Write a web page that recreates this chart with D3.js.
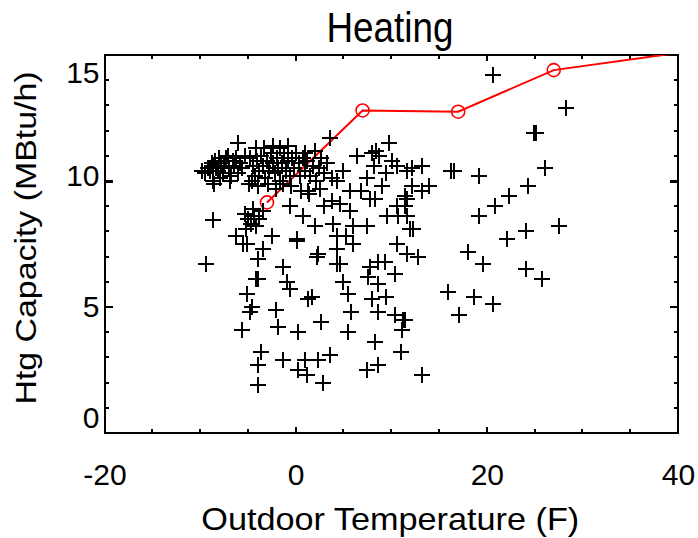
<!DOCTYPE html>
<html>
<head>
<meta charset="utf-8">
<script src="https://cdn.jsdelivr.net/npm/d3@7"></script>
<style>
  html, body { margin: 0; padding: 0; background: #fff; }
  svg { display: block; font-family: "Liberation Sans", Arial, sans-serif; }
</style>
</head>
<body>
<svg id="chart" width="698" height="538"></svg>
<script>
// Heating capacity vs outdoor temperature: measured points (+) and rated curve (red)
const TITLE = 'Heating';
const X_LABEL = 'Outdoor Temperature (F)';
const Y_LABEL = 'Htg Capacity (MBtu/h)';
const X_TICKS = [-20, 0, 20, 40];
const Y_TICKS = [0, 5, 10, 15];

// measured points [temp F, capacity MBtu/h]
const measured = [
  // dense cluster, far left
  [-9.8,10.4],[-9.5,10.3],[-9.2,10.5],[-9.0,10.4],[-8.8,10.7],[-8.6,10.6],[-8.4,10.8],[-8.3,10.5],
  [-8.1,10.4],[-8.0,10.9],[-7.8,10.7],[-7.6,10.3],[-7.5,10.6],[-7.3,10.9],[-7.1,11.0],[-7.0,10.5],
  [-6.8,10.2],[-6.6,10.8],[-6.4,10.6],[-6.2,10.9],[-6.0,10.3],[-5.8,10.7],[-5.6,10.5],[-8.7,10.0],
  [-7.9,10.1],[-8.5,9.9],[-6.9,10.0],[-6.0,11.5],[-5.3,11.0],
  // dense cluster, around 0F
  [-4.1,11.3],[-0.8,11.4],[-4.8,10.9],[-4.5,10.6],[-4.3,10.2],[-4.0,10.8],[-3.8,10.4],[-3.6,11.0],
  [-3.4,10.6],[-3.2,10.1],[-3.0,10.8],[-2.8,10.4],[-2.6,11.1],[-2.4,10.7],[-2.2,10.3],[-2.0,10.9],
  [-1.8,10.5],[-1.6,10.0],[-1.4,10.7],[-1.2,11.1],[-1.0,10.4],[-0.8,10.8],[-0.6,10.2],[-0.4,10.9],
  [-0.2,10.5],[0.0,11.1],[-4.6,10.0],[-3.9,9.8],[-2.9,9.9],[-2.1,9.7],[-1.3,9.9],[-0.5,9.8],
  [-3.3,11.3],[-2.4,11.4],[-1.6,11.3],[0.3,10.7],[0.5,10.2],[0.8,10.9],[1.0,10.4],[-4.9,9.9],
  [1.2,10.8],[1.5,10.2],[1.8,10.6],[2.1,10.0],[2.4,10.5],[2.7,10.9],[3.0,10.3],[3.3,10.7],
  [0.6,9.6],[1.4,9.5],[2.5,9.7],[3.6,11.7],[2.0,11.2],[1.0,11.1],[3.8,10.1],
  // middle band
  [5.0,10.4],[4.3,10.0],[7.5,10.1],[9.0,9.8],[5.7,9.6],[3.8,9.2],[-0.6,9.0],[1.3,9.6],
  [0.8,8.6],[9.8,11.5],[8.0,11.1],[8.4,11.2],[8.7,11.0],[6.4,11.0],[10.1,10.8],[10.6,10.6],
  [11.6,10.4],[12.2,10.5],[13.2,10.6],[12.2,9.8],[14.0,9.8],[13.2,9.6],[11.4,9.4],[11.4,9.0],
  [11.6,8.6],[12.3,8.1],[7.8,9.3],[8.3,9.3],[10.6,9.0],[11.7,9.3],[10.7,8.6],[12.0,8.1],
  [9.6,8.6],[5.7,8.8],[3.9,8.3],[6.0,8.2],[7.5,8.2],[2.0,8.2],[0.1,7.7],[-2.5,7.8],
  [5.3,7.8],[4.3,7.8],[2.3,7.1],[3.0,9.0],[4.6,9.1],[6.8,9.6],[9.5,10.3],[8.2,10.6],
  // lower-left clump
  [-5.3,8.7],[-5.0,8.5],[-4.7,8.3],[-4.4,8.6],[-4.1,8.2],[-3.8,8.5],[-5.2,8.1],[-4.5,8.9],
  [-3.4,8.8],[-8.6,8.45],[-6.2,7.8],[-5.1,7.5],
  // lower scatter
  [-9.4,6.7],[-3.9,6.9],[-3.4,7.3],[-5.5,7.5],[0.1,7.6],[2.2,7.0],[-1.3,6.6],[4.3,7.3],
  [4.3,6.7],[4.6,6.7],[6.0,7.5],[10.6,7.5],[8.6,6.8],[9.3,6.8],[11.7,7.1],[12.8,7.0],
  [10.4,6.3],[-3.9,6.1],[-4.2,6.1],[-0.9,6.0],[-0.6,5.7],[5.0,6.0],[7.6,6.2],[8.6,5.9],
  [7.8,6.6],[-5.1,5.5],[1.3,5.3],[1.7,5.4],[5.5,5.5],[8.0,5.3],[9.5,5.4],[-4.6,5.0],
  [-2.1,4.9],[-4.8,4.8],[5.8,4.8],[8.6,4.8],[10.4,4.7],[11.2,4.5],[11.1,4.1],[-5.6,4.1],
  [-1.9,4.2],[0.2,4.0],[2.7,4.4],[5.5,4.0],[8.3,3.6],[11.0,3.2],[-3.6,3.2],[-3.9,2.7],
  [-1.3,2.9],[1.0,2.9],[2.3,2.9],[3.6,3.1],[0.2,2.5],[1.2,2.3],[7.5,2.5],[8.6,2.7],
  [13.2,2.3],[-3.9,1.9],[2.9,2.0],[11.4,4.5],
  // warmer days
  [20.6,14.2],[28.3,12.9],[24.9,11.9],[25.1,11.9],[26.1,10.5],[19.2,10.2],[16.3,10.4],[16.6,10.4],
  [24.3,9.8],[22.3,9.4],[20.9,9.0],[19.2,8.6],[27.5,8.2],[24.1,8.0],[22.1,7.7],[18.0,7.2],
  [19.6,6.7],[24.1,6.5],[25.8,6.1],[15.9,5.6],[18.7,5.4],[20.6,5.1],[17.1,4.7]
];

// rated curve [temp F, capacity MBtu/h]; last point runs off the top
const rated = [[-3.0,9.15],[7.0,12.8],[17.0,12.75],[27.0,14.4],[47.0,15.45]];
const ratedMarkers = rated.slice(0, 4);

const svg = d3.select('#chart');
const L = 104.5, R = 678, T = 55, B = 433;
const x = d3.scaleLinear().domain([-20, 40]).range([L, R]);
const y = d3.scaleLinear().domain([0, 15]).range([B, T]);

svg.append('defs').append('clipPath').attr('id', 'plot')
  .append('rect').attr('x', L).attr('y', T).attr('width', R - L).attr('height', B - T);

// ticks (all pointing inward), minor every 5F / 1 MBtu, longer at labelled ones
const xMinor = d3.range(-15, 40, 5).filter(v => v !== 0 && v !== 20), xMajor = [0, 20];
const yMinor = d3.range(1, 15).filter(v => v !== 5 && v !== 10);
const tk = svg.append('g').attr('stroke', '#000').attr('shape-rendering', 'crispEdges');
function xTicks(vals, len, w) {
  vals.forEach(v => {
    tk.append('line').attr('x1', x(v)).attr('x2', x(v)).attr('y1', B).attr('y2', B - len).attr('stroke-width', w);
    tk.append('line').attr('x1', x(v)).attr('x2', x(v)).attr('y1', T).attr('y2', T + len).attr('stroke-width', w);
  });
}
function yTicks(vals, len, w) {
  vals.forEach(v => {
    tk.append('line').attr('y1', y(v)).attr('y2', y(v)).attr('x1', L).attr('x2', L + len).attr('stroke-width', w);
    tk.append('line').attr('y1', y(v)).attr('y2', y(v)).attr('x1', R).attr('x2', R - len).attr('stroke-width', w);
  });
}
xTicks(xMinor, 4, 2); xTicks(xMajor, 6, 2);
yTicks(yMinor, 4, 2); yTicks([5], 8, 2); yTicks([10], 8, 3);

// frame
svg.append('rect').attr('x', L).attr('y', T).attr('width', R - L).attr('height', B - T)
  .attr('fill', 'none').attr('stroke', '#000').attr('stroke-width', 2).attr('shape-rendering', 'crispEdges');

// tick labels via d3 axes (plain hyphen minus), end labels nudged inside like the original
const fmt = d => String(d);
const xAx = svg.append('g').attr('transform', `translate(0,${B})`)
  .call(d3.axisBottom(x).tickValues(X_TICKS).tickSize(0).tickPadding(31).tickFormat(fmt));
const yAx = svg.append('g').attr('transform', `translate(${L},0)`)
  .call(d3.axisLeft(y).tickValues(Y_TICKS).tickSize(0).tickPadding(5).tickFormat(fmt));
[xAx, yAx].forEach(a => { a.select('.domain').remove(); a.selectAll('text').attr('font-size', 30).attr('font-family', null).attr('fill', '#000'); });
yAx.selectAll('.tick text').attr('dy', d => d === 15 ? '0.9em' : d === 0 ? '-0.2em' : d === 10 ? '0.15em' : '0.32em');

// rated curve
const plot = svg.append('g').attr('clip-path', 'url(#plot)');
plot.append('path').datum(rated)
  .attr('d', d3.line().x(d => x(d[0])).y(d => y(d[1])))
  .attr('fill', 'none').attr('stroke', '#ff0000').attr('stroke-width', 2);
plot.selectAll('circle.rated').data(ratedMarkers).join('circle').attr('class', 'rated')
  .attr('cx', d => x(d[0])).attr('cy', d => y(d[1])).attr('r', 6.5)
  .attr('fill', 'none').attr('stroke', '#ff0000').attr('stroke-width', 1.6);

// measured points as + markers
plot.selectAll('path.pt').data(measured).join('path').attr('class', 'pt')
  .attr('transform', d => `translate(${Math.round(x(d[0]))},${Math.round(y(d[1]))})`)
  .attr('d', 'M-8,0H8M0,-8V8').attr('stroke', '#000').attr('stroke-width', 2)
  .attr('shape-rendering', 'crispEdges');

// titles
svg.append('text').attr('x', 390).attr('y', 42).attr('text-anchor', 'middle')
  .attr('font-size', 42).attr('textLength', 127).attr('lengthAdjust', 'spacingAndGlyphs').text(TITLE);
svg.append('text').attr('x', (L + R) / 2 - 1).attr('y', 530).attr('text-anchor', 'middle')
  .attr('font-size', 32).attr('textLength', 378).attr('lengthAdjust', 'spacingAndGlyphs').text(X_LABEL);
svg.append('text').attr('transform', `translate(36,${(T + B) / 2 - 6}) rotate(-90)`).attr('text-anchor', 'middle')
  .attr('font-size', 29).attr('textLength', 333).attr('lengthAdjust', 'spacingAndGlyphs').text(Y_LABEL);
</script>
</body>
</html>
